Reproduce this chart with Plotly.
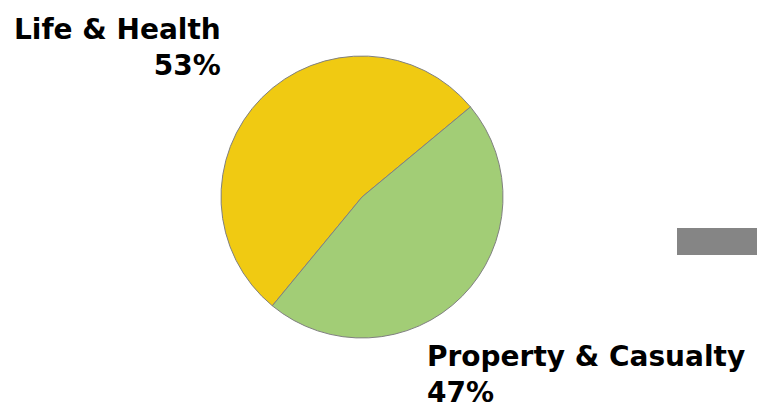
import plotly.graph_objects as go

# Premium split by line of business
segments = ["Life & Health", "Property & Casualty"]
shares = [53, 47]
slice_colors = ["#F0CA12", "#A2CD76"]

W, H = 757, 416

fig = go.Figure(
    go.Pie(
        labels=segments,
        values=shares,
        sort=False,
        direction="clockwise",
        rotation=-140.5,
        marker=dict(colors=slice_colors, line=dict(color="#808080", width=1)),
        textinfo="none",
        hoverinfo="label+percent",
        showlegend=False,
        domain=dict(x=[221 / W, 503 / W], y=[(H - 338) / H, (H - 56) / H]),
    )
)

label_font = dict(family="DejaVu Sans", size=28, color="#000000")

# Outside labels: segment name with its share underneath
fig.add_annotation(
    text=f"<b>{segments[0]}</b><br><b>{shares[0]}%</b>",
    xref="paper", yref="paper",
    x=223 / W, y=(H - 47) / H,
    xanchor="right", yanchor="middle",
    align="right", showarrow=False, font=label_font,
)
fig.add_annotation(
    text=f"<b>{segments[1]}</b><br><b>{shares[1]}%</b>",
    xref="paper", yref="paper",
    x=425 / W, y=(H - 374) / H,
    xanchor="left", yanchor="middle",
    align="left", showarrow=False, font=label_font,
)

# Grey marker block at the right edge
fig.add_shape(
    type="rect", xref="paper", yref="paper",
    x0=677 / W, x1=1.01, y0=(H - 255) / H, y1=(H - 228) / H,
    fillcolor="#858585", line=dict(width=0),
)

fig.update_layout(
    width=W, height=H,
    margin=dict(l=0, r=0, t=0, b=0),
    paper_bgcolor="#FFFFFF",
    plot_bgcolor="#FFFFFF",
)

fig.write_html("out.html")
